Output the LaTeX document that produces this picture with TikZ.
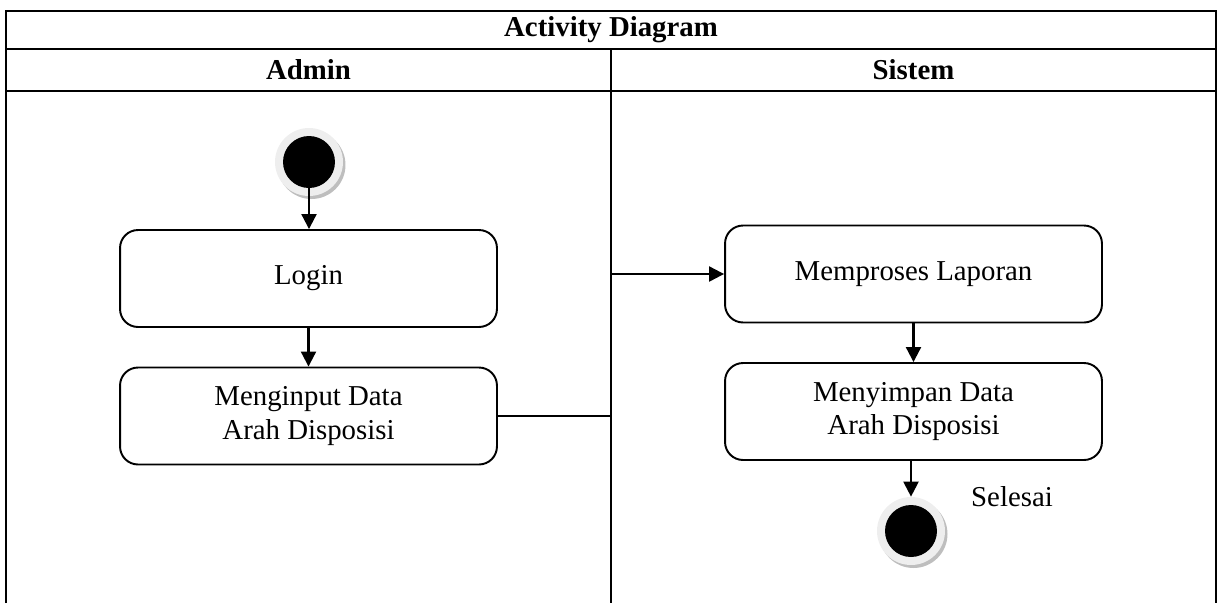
\documentclass[tikz,border=0pt]{standalone}
\usepackage{fontspec}
\setmainfont{Liberation Serif}
\usetikzlibrary{arrows.meta,positioning,calc,shadows}
\definecolor{AdRing}{RGB}{238,238,238}
\definecolor{AdShadow}{RGB}{190,190,190}
\tikzset{
  ad/act/.style={
    draw=black,
    line width=1.1pt,
    rounded corners=0.36cm,
    fill=white,
    align=center,
    minimum width=7.54cm,
    minimum height=1.94cm,
    font=\fontsize{16.4}{19}\selectfont
  },
  ad/ring/.style={
    circle,
    fill=AdRing,
    inner sep=0pt,
    minimum size=1.36cm,
    drop shadow={shadow xshift=0.05cm, shadow yshift=-0.06cm, fill=AdShadow, opacity=1}
  },
  ad/dot/.style={circle, fill=black, inner sep=0pt, minimum size=1.04cm},
  ad/arrow/.style={-{Triangle[length=0.3cm,width=0.3cm]}, line width=1.2pt, draw=black},
  ad/frame/.style={line width=1.3pt, draw=black},
  ad/head/.style={font=\bfseries\fontsize{16.4}{19}\selectfont, align=center},
  ad/label/.style={font=\fontsize{16.4}{19}\selectfont, align=center}
}

\begin{document}
\begin{tikzpicture}[x=0.02cm,y=-0.02cm]
  \useasboundingbox (0,0) rectangle (1218,603);
  % swimlane frame
  \draw[ad/frame] (6,603) -- (6,11) -- (1216,11) -- (1216,603);
  \draw[ad/frame] (6,49) -- (1216,49);
  \draw[ad/frame] (6,91) -- (1216,91);
  \coordinate (divtop) at (611,49);
  \draw[ad/frame] (divtop) -- (611,603);
  \node[ad/head] (title) at (611,30) {Activity Diagram};
  \node[ad/head] (lanea) at (308.5,70) {Admin};
  \node[ad/head] (laneb) at (913.5,70) {Sistem};

  % Admin
  \node[ad/ring] (start) at (309,162) {};
  \node[ad/dot] (startdot) at (start) {};
  \node[ad/act] (login) at (308.5,278.5) {Login};
  \node[ad/act] (input) at (308.5,416) {Menginput Data\\Arah Disposisi};

  % Sistem
  \node[ad/act] (proses) at (913.5,274) {Memproses Laporan};
  \node[ad/act] (save) at (913.5,411.5) {Menyimpan Data\\Arah Disposisi};
  \node[ad/ring] (end) at (911,531) {};
  \node[ad/dot] (enddot) at (end) {};
  \node[ad/label] (selesai) at (1012,497) {Selesai};

  \draw[ad/arrow] (startdot.south) -- (startdot.south |- login.north);
  \draw[ad/arrow] (login) -- (input);
  \draw[ad/arrow] (input.east) -- (input.east -| divtop) |- (proses.west);
  \draw[ad/arrow] (proses) -- (save);
  \draw[ad/arrow] (end |- save.south) -- (end.north);
\end{tikzpicture}
\end{document}
